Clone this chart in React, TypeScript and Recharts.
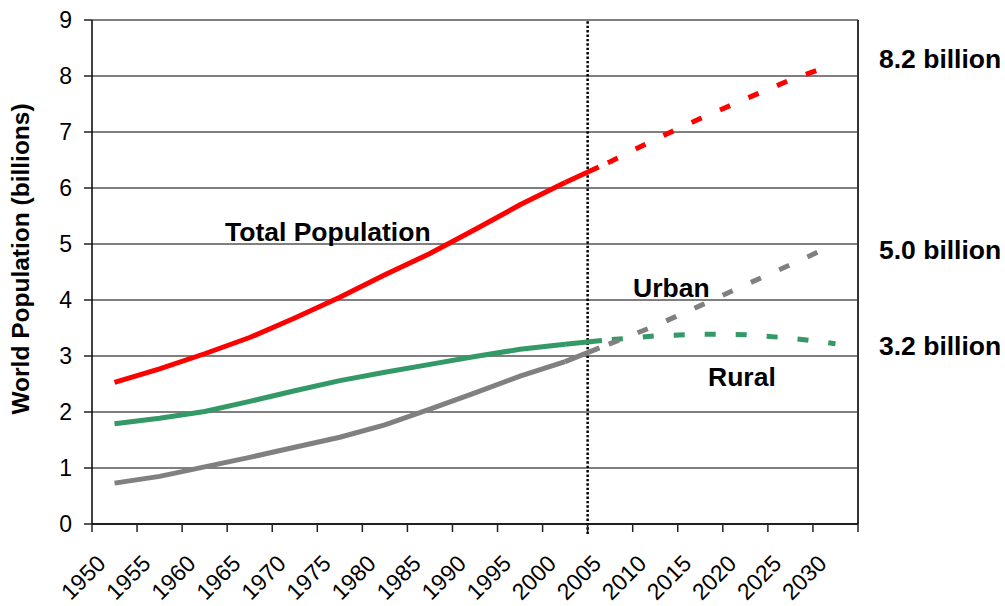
import React from 'react';
import { LineChart, Line, XAxis, YAxis, CartesianGrid, ReferenceLine } from 'recharts';

const years = [1950, 1955, 1960, 1965, 1970, 1975, 1980, 1985, 1990, 1995, 2000, 2005, 2010, 2015, 2020, 2025, 2030];
const historyYears = [1950, 1955, 1960, 1965, 1970, 1975, 1980, 1985, 1990, 1995, 2000];
const projectionYears = [2000, 2005, 2010, 2015, 2020, 2025, 2030];

const totalHistory = [2.53, 2.77, 3.04, 3.33, 3.68, 4.05, 4.45, 4.83, 5.26, 5.7, 6.1];
const urbanHistory = [0.73, 0.85, 1.02, 1.19, 1.37, 1.55, 1.77, 2.05, 2.34, 2.64, 2.9];
const ruralHistory = [1.79, 1.89, 2.01, 2.19, 2.38, 2.56, 2.71, 2.85, 2.99, 3.12, 3.21];

const totalProjection = [6.1, 6.47, 6.87, 7.24, 7.59, 7.93, 8.22];
const urbanProjection = [2.9, 3.22, 3.54, 3.9, 4.27, 4.63, 5.0];
const ruralProjection = [3.21, 3.29, 3.36, 3.39, 3.38, 3.32, 3.22];

const yTicks = [0, 1, 2, 3, 4, 5, 6, 7, 8, 9];
// category boundaries (tick marks sit between categories)
const xBoundaries = [1947.5, 1952.5, 1957.5, 1962.5, 1967.5, 1972.5, 1977.5, 1982.5, 1987.5, 1992.5, 1997.5, 2002.5, 2007.5, 2012.5, 2017.5, 2022.5, 2027.5, 2032.5];
const projectionStart = 2002.5;

const data = years.map((year) => {
  const h = historyYears.indexOf(year);
  const p = projectionYears.indexOf(year);
  return {
    year,
    total: h >= 0 ? totalHistory[h] : null,
    urban: h >= 0 ? urbanHistory[h] : null,
    rural: h >= 0 ? ruralHistory[h] : null,
    totalProj: p >= 0 ? totalProjection[p] : null,
    urbanProj: p >= 0 ? urbanProjection[p] : null,
    ruralProj: p >= 0 ? ruralProjection[p] : null,
  };
});

const FONT = "'Liberation Sans', Arial, sans-serif";
const DASH = '37 10 11 20 11 20 11 20 11 20 11 20 11 20 11 20 11 80';

const XTick = (props: any) => {
  const { x, y, payload } = props;
  const v = payload.value;
  if (v > 2030) return null;
  const label = String(v + 2.5);
  const ex = x + 15;
  const ey = y + 33;
  return (
    <text x={ex} y={ey} textAnchor="end" transform={`rotate(-45 ${ex} ${ey})`} fontSize={23} fill="#000" fontFamily={FONT}>
      {label}
    </text>
  );
};

const boldText = { fontFamily: FONT, fontWeight: 700, fontSize: 26.5, fill: '#000' } as const;

export default function App() {
  return (
    <div style={{ position: 'absolute', left: 0, top: 0 }}>
      <LineChart width={1005} height={606} data={data} margin={{ top: 20, right: 147, bottom: 0, left: 32 }}>
        <CartesianGrid vertical={false} stroke="#000" strokeWidth={1.2} />
        <XAxis
          dataKey="year"
          type="number"
          domain={[1947.5, 2032.5]}
          ticks={xBoundaries}
          interval={0}
          height={82}
          tickSize={8}
          tickMargin={0}
          tick={<XTick />}
          axisLine={{ stroke: '#000', strokeWidth: 1.5 }}
          tickLine={{ stroke: '#222', strokeWidth: 1.5 }}
        />
        <YAxis
          type="number"
          domain={[0, 9]}
          ticks={yTicks}
          interval={0}
          width={60}
          tickSize={8}
          tickMargin={12}
          tick={{ fontSize: 23, fill: '#000', fontFamily: FONT }}
          axisLine={{ stroke: '#000', strokeWidth: 1.5 }}
          tickLine={{ stroke: '#222', strokeWidth: 1.5 }}
        />
        <ReferenceLine x={2032.5} stroke="#333" strokeWidth={2} />
        <ReferenceLine
          segment={[{ x: projectionStart, y: -0.18 }, { x: projectionStart, y: 9 }]}
          ifOverflow="visible"
          stroke="#000"
          strokeWidth={2.5}
          strokeDasharray="2.4 2"
        />
        <Line dataKey="total" stroke="#FF0000" strokeWidth={5} dot={false} activeDot={false} isAnimationActive={false} />
        <Line dataKey="rural" stroke="#339966" strokeWidth={5} dot={false} activeDot={false} isAnimationActive={false} />
        <Line dataKey="urban" stroke="#808080" strokeWidth={5} dot={false} activeDot={false} isAnimationActive={false} />
        <Line dataKey="totalProj" stroke="#FF0000" strokeWidth={5} strokeDasharray={DASH} dot={false} activeDot={false} isAnimationActive={false} />
        <Line dataKey="ruralProj" stroke="#339966" strokeWidth={5} strokeDasharray={DASH} dot={false} activeDot={false} isAnimationActive={false} />
        <Line dataKey="urbanProj" stroke="#808080" strokeWidth={5} strokeDasharray={DASH} dot={false} activeDot={false} isAnimationActive={false} />
        <text x={29} y={259} textAnchor="middle" transform="rotate(-90 29 259)" style={{ ...boldText, fontSize: 24.5 }}>
          World Population (billions)
        </text>
        <text x={225} y={241} style={boldText}>Total Population</text>
        <text x={633} y={297} style={boldText}>Urban</text>
        <text x={708} y={386} style={boldText}>Rural</text>
        <text x={879} y={68} style={boldText}>8.2 billion</text>
        <text x={879} y={259} style={boldText}>5.0 billion</text>
        <text x={879} y={355} style={boldText}>3.2 billion</text>
      </LineChart>
    </div>
  );
}
